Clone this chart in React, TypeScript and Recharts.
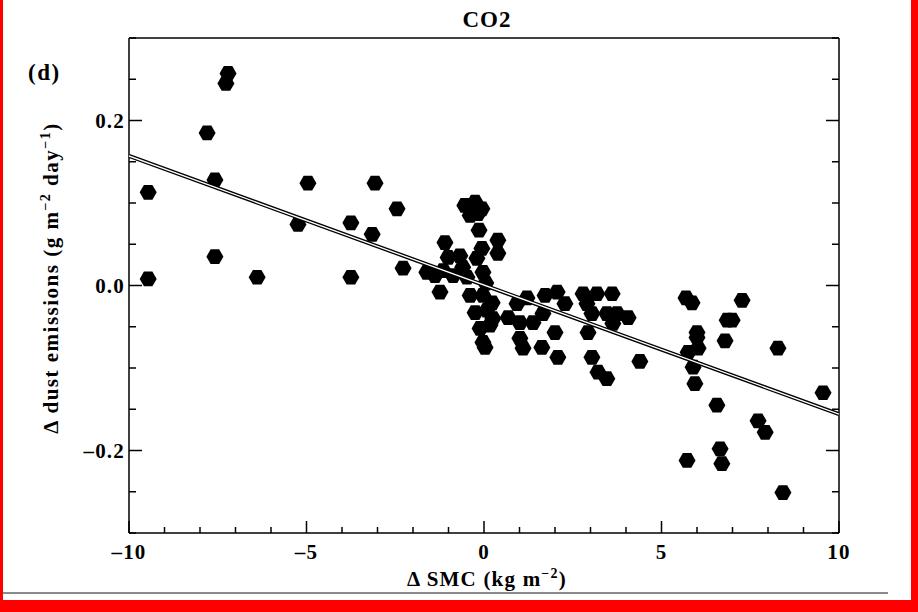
import React from "react";
import { ScatterChart, Scatter, XAxis, YAxis } from "recharts";

// Δ SMC (kg m-2) for each grid point
const smc = [
  -9.46, -9.46, -7.8, -7.58, -7.58, -7.21, -7.27, -6.39, -5.24, -4.96, -3.75, -3.75,
  -3.15, -3.07, -2.45, -2.28,
  -0.54, -0.25, -0.06, -0.39, -0.17, -0.14, -1.1, 0.39, 0.39, -0.06, -1.01, -0.68,
  -0.2, -1.61, -1.15, -0.87, -0.03, -0.48, -0.6, 0.05, -1.38, -1.24, -0.39, -0.03,
  0.23, -0.25, 0.08, 0.25, -0.11, 0.17, -0.03, 0.03, 0.68, 0.93, 1.01, 1.01, 1.1,
  1.21, 1.72, 2.06, 2.28, 1.66, 1.38, 1.63, 2.0, 2.08, 2.79, 3.18, 3.61, 2.9, 3.04,
  3.46, 3.75, 3.63, 4.06, 2.93, 3.04, 3.21, 3.46, 4.39,
  5.69, 5.86, 7.27, 6.85, 6.99, 6.0, 6.0, 6.79, 8.28, 5.75, 6.03, 5.89, 5.94, 6.56,
  7.72, 7.92, 6.65, 6.7, 5.72, 9.55, 8.42,
];

// Δ dust emissions (g m-2 day-1)
const dust = [
  0.113, 0.008, 0.185, 0.128, 0.035, 0.257, 0.245, 0.01, 0.074, 0.124, 0.076, 0.01,
  0.062, 0.124, 0.093, 0.021,
  0.097, 0.101, 0.093, 0.085, 0.087, 0.067, 0.052, 0.055, 0.039, 0.045, 0.034, 0.036,
  0.033, 0.016, 0.018, 0.012, 0.016, 0.01, 0.022, 0.003, 0.012, -0.008, -0.012, -0.012,
  -0.021, -0.033, -0.03, -0.04, -0.052, -0.048, -0.069, -0.075, -0.039, -0.022, -0.045,
  -0.064, -0.076, -0.015, -0.012, -0.008, -0.022, -0.034, -0.045, -0.075, -0.057,
  -0.087, -0.01, -0.01, -0.01, -0.022, -0.034, -0.034, -0.034, -0.046, -0.039, -0.057,
  -0.087, -0.105, -0.113, -0.092,
  -0.015, -0.021, -0.018, -0.042, -0.042, -0.057, -0.063, -0.067, -0.076, -0.081,
  -0.076, -0.099, -0.119, -0.145, -0.164, -0.178, -0.198, -0.216, -0.212, -0.13, -0.251,
];

// regression line end points
const fitX = [-10, 10];
const fitY = [0.157, -0.156];

const xMajorTicks = [-10, -5, 0, 5, 10];
const xTicks = [-10, -9, -8, -7, -6, -5, -4, -3, -2, -1, 0, 1, 2, 3, 4, 5, 6, 7, 8, 9, 10];
const yMajorTicks = [-0.2, 0, 0.2];
const yTicks = [-0.3, -0.25, -0.2, -0.15, -0.1, -0.05, 0, 0.05, 0.1, 0.15, 0.2, 0.25, 0.3];

const points = smc.map((x, i) => ({ x, y: dust[i] }));
const fit = fitX.map((x, i) => ({ x, y: fitY[i] }));

const FONT = "'Liberation Serif', 'Times New Roman', serif";
const TICK_FONT = { fontFamily: FONT, fontWeight: 700, fontSize: 21, letterSpacing: 1.2 };

const isMajorX = (v: number) => xMajorTicks.some((m) => Math.abs(m - v) < 1e-6);
const isMajorY = (v: number) => yMajorTicks.some((m) => Math.abs(m - v) < 1e-6);

const fmtX = (v: number) => (v < 0 ? "\u2013" + Math.abs(v) : String(v));
const fmtY = (v: number) => (v < 0 ? "\u2013" + Math.abs(v).toFixed(1) : v.toFixed(1));

const Hex = (props: any) => {
  const { cx, cy } = props;
  const r = 8.5;
  const pts = [0, 60, 120, 180, 240, 300]
    .map((a) => {
      const t = (a * Math.PI) / 180;
      return `${cx + r * Math.cos(t)},${cy + r * Math.sin(t)}`;
    })
    .join(" ");
  return <polygon points={pts} fill="#000" />;
};

const NoDot = () => <g />;

// inward ticks; labels only on the bottom / left axes
const BottomTick = (props: any) => {
  const { x, y, payload } = props;
  const v = payload.value;
  const major = isMajorX(v);
  return (
    <g>
      <line x1={x} x2={x} y1={y} y2={y - (major ? 12 : 6)} stroke="#000" strokeWidth={1.5} />
      {major && (
        <text x={x} y={y + 26} textAnchor="middle" fill="#000" {...TICK_FONT}>
          {fmtX(v)}
        </text>
      )}
    </g>
  );
};

const TopTick = (props: any) => {
  const { x, y, payload } = props;
  const major = isMajorX(payload.value);
  return <line x1={x} x2={x} y1={y} y2={y + (major ? 12 : 6)} stroke="#000" strokeWidth={1.5} />;
};

const LeftTick = (props: any) => {
  const { x, y, payload } = props;
  const v = payload.value;
  const major = isMajorY(v);
  return (
    <g>
      <line x1={x} x2={x + (major ? 13 : 7)} y1={y} y2={y} stroke="#000" strokeWidth={1.5} />
      {major && (
        <text x={x - 4} y={y + 7} textAnchor="end" fill="#000" {...TICK_FONT}>
          {fmtY(v)}
        </text>
      )}
    </g>
  );
};

const RightTick = (props: any) => {
  const { x, y, payload } = props;
  const major = isMajorY(payload.value);
  return <line x1={x} x2={x - (major ? 13 : 7)} y1={y} y2={y} stroke="#000" strokeWidth={1.5} />;
};

const axisStroke = { stroke: "#000", strokeWidth: 1.5 };

export default function App() {
  return (
    <div style={{ position: "absolute", left: 0, top: 0, width: 918, height: 612, background: "#fff", overflow: "hidden" }}>
      <ScatterChart width={918} height={612} margin={{ top: 37, right: 78, bottom: 49, left: 69 }}>
        <XAxis xAxisId="x" type="number" dataKey="x" domain={[-10, 10]} allowDataOverflow ticks={xTicks}
          interval={0} tickLine={false} tickSize={0} tickMargin={0} axisLine={axisStroke} tick={BottomTick} height={30} />
        <XAxis xAxisId="top" orientation="top" type="number" domain={[-10, 10]} allowDataOverflow ticks={xTicks}
          interval={0} tickLine={false} tickSize={0} tickMargin={0} axisLine={axisStroke} tick={TopTick} height={1} />
        <YAxis yAxisId="y" type="number" dataKey="y" domain={[-0.3, 0.3]} allowDataOverflow ticks={yTicks}
          interval={0} tickLine={false} tickSize={0} tickMargin={0} axisLine={axisStroke} tick={LeftTick} width={60} />
        <YAxis yAxisId="right" orientation="right" type="number" domain={[-0.3, 0.3]} allowDataOverflow ticks={yTicks}
          interval={0} tickLine={false} tickSize={0} tickMargin={0} axisLine={axisStroke} tick={RightTick} width={1} />

        <Scatter xAxisId="x" yAxisId="y" data={points} shape={Hex} isAnimationActive={false} />
        <Scatter xAxisId="x" yAxisId="y" data={fit} line={{ stroke: "#000", strokeWidth: 4 }} shape={NoDot}
          isAnimationActive={false} />
        <Scatter xAxisId="x" yAxisId="y" data={fit} line={{ stroke: "#fff", strokeWidth: 1.3 }} shape={NoDot}
          isAnimationActive={false} />
      </ScatterChart>

      <svg width={918} height={612} style={{ position: "absolute", left: 0, top: 0, pointerEvents: "none" }}>
        <g fontFamily={FONT} fontWeight={700} fill="#000">
          <text x={487} y={27} textAnchor="middle" fontSize={23} letterSpacing={1}>CO2</text>
          <text x={28} y={80} fontSize={23} letterSpacing={1.5}>(d)</text>
          <text x={487} y={586} textAnchor="middle" fontSize={21} letterSpacing={1.2}>
            Δ SMC (kg m<tspan dy={-8} fontSize={14}>−2</tspan><tspan dy={8}>)</tspan>
          </text>
          <text transform="translate(58, 278) rotate(-90)" textAnchor="middle" fontSize={21} letterSpacing={1.5}>
            Δ dust emissions (g m<tspan dy={-8} fontSize={14}>−2</tspan>
            <tspan dy={8}> day</tspan><tspan dy={-8} fontSize={14}>−1</tspan><tspan dy={8}>)</tspan>
          </text>
        </g>
      </svg>

      <div style={{ position: "absolute", left: 0, top: 592, width: 888, height: 1.5, background: "#8a8a8a" }} />
      <div style={{ position: "absolute", left: 0, top: 0, width: 3, height: 612, background: "#f00" }} />
      <div style={{ position: "absolute", left: 911, top: 0, width: 7, height: 612, background: "#f00" }} />
      <div style={{ position: "absolute", left: 0, top: 600, width: 918, height: 12, background: "#f00" }} />
    </div>
  );
}
